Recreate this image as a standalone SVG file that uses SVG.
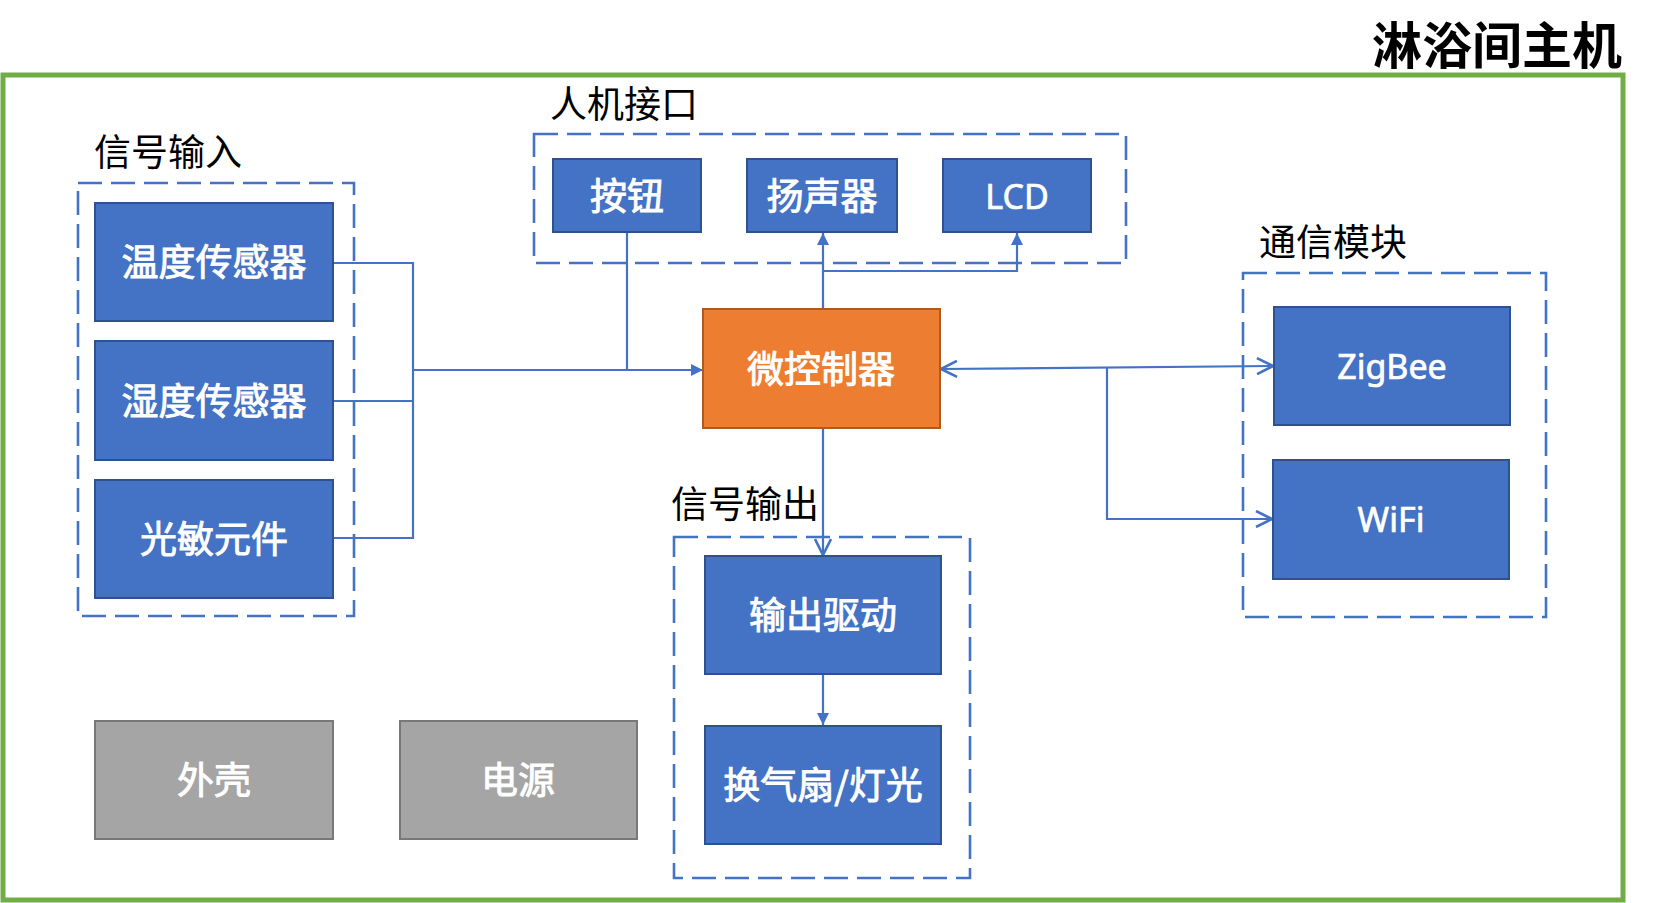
<svg xmlns="http://www.w3.org/2000/svg" width="1655" height="903" viewBox="0 0 1655 903">
<style>
  .frame{fill:none;stroke:#70AD47;stroke-width:5}
  .grp{fill:none;stroke:#4472C4;stroke-width:2.6;stroke-dasharray:24 9}
  .blue{fill:#4472C4;stroke:#2F528F;stroke-width:2}
  .orange{fill:#ED7D31;stroke:#AE5A21;stroke-width:2}
  .gray{fill:#A5A5A5;stroke:#787878;stroke-width:2}
  .lbl{font-family:"Noto Sans CJK SC","Noto Sans",sans-serif;font-size:37px;fill:#000}
  .title{font-family:"Noto Sans CJK SC","Noto Sans",sans-serif;font-size:50px;font-weight:bold;fill:#000}
  .nt{font-family:"Noto Sans CJK SC","Noto Sans",sans-serif;font-size:37px;fill:#fff;stroke:#fff;stroke-width:0.9;text-anchor:middle}
  .lt{font-family:"Noto Sans","Noto Sans CJK SC",sans-serif;font-size:34px;fill:#fff;stroke:#fff;stroke-width:0.7;text-anchor:middle}
  .wire{fill:none;stroke:#4472C4;stroke-width:2.2}
</style>
<defs>
  <marker id="tri" viewBox="0 0 12 12" refX="12" refY="6" markerWidth="12" markerHeight="12" markerUnits="userSpaceOnUse" orient="auto">
    <path d="M0,0 L12,6 L0,12 Z" fill="#4472C4"/>
  </marker>
  <marker id="vee" viewBox="0 0 18 18" refX="17" refY="9" markerWidth="18" markerHeight="18" markerUnits="userSpaceOnUse" orient="auto-start-reverse">
    <path d="M1,1 L17,9 L1,17" fill="none" stroke="#4472C4" stroke-width="2.6"/>
  </marker>
</defs>
<rect width="1655" height="903" fill="#fff"/>

<g id="host">
  <rect class="frame" x="3" y="75" width="1620" height="825"/>
  <text class="title" x="1622" y="64" text-anchor="end">淋浴间主机</text>
</g>

<g id="group-input">
  <rect class="grp" x="78" y="183" width="276" height="433"/>
  <text class="lbl" x="94" y="166">信号输入</text>
</g>
<g id="group-hmi">
  <rect class="grp" x="534" y="134" width="592" height="129"/>
  <text class="lbl" x="550" y="118">人机接口</text>
</g>
<g id="group-output">
  <rect class="grp" x="674" y="537" width="296" height="341"/>
  <text class="lbl" x="671" y="518">信号输出</text>
</g>
<g id="group-comm">
  <rect class="grp" x="1243" y="273" width="303" height="344"/>
  <text class="lbl" x="1259" y="256">通信模块</text>
</g>

<g id="connectors">
  <polyline class="wire" points="333,263 413,263 413,538 333,538"/>
  <line class="wire" x1="333" y1="401" x2="413" y2="401"/>
  <line class="wire" x1="413" y1="370" x2="703" y2="370" marker-end="url(#tri)"/>
  <line class="wire" x1="627" y1="232" x2="627" y2="370"/>
  <line class="wire" x1="823" y1="309" x2="823" y2="233" marker-end="url(#tri)"/>
  <polyline class="wire" points="823,271 1017,271 1017,233" marker-end="url(#tri)"/>
  <line class="wire" x1="941" y1="369" x2="1273" y2="366" marker-start="url(#vee)" marker-end="url(#vee)"/>
  <polyline class="wire" points="1107,368 1107,519 1272,519" marker-end="url(#vee)"/>
  <line class="wire" x1="823" y1="428" x2="823" y2="555" marker-end="url(#vee)"/>
  <line class="wire" x1="823" y1="674" x2="823" y2="725" marker-end="url(#tri)"/>
</g>

<g id="n-temp"><rect class="blue" x="95" y="203" width="238" height="118"/><text class="nt" x="214" y="276">温度传感器</text></g>
<g id="n-humid"><rect class="blue" x="95" y="341" width="238" height="119"/><text class="nt" x="214" y="415">湿度传感器</text></g>
<g id="n-light"><rect class="blue" x="95" y="480" width="238" height="118"/><text class="nt" x="214" y="553">光敏元件</text></g>
<g id="n-button"><rect class="blue" x="553" y="159" width="148" height="73"/><text class="nt" x="627" y="210">按钮</text></g>
<g id="n-speaker"><rect class="blue" x="747" y="159" width="150" height="73"/><text class="nt" x="822" y="210">扬声器</text></g>
<g id="n-lcd"><rect class="blue" x="943" y="159" width="148" height="73"/><text class="lt" x="1017" y="209">LCD</text></g>
<g id="n-mcu"><rect class="orange" x="703" y="309" width="237" height="119"/><text class="nt" x="821" y="383">微控制器</text></g>
<g id="n-driver"><rect class="blue" x="705" y="556" width="236" height="118"/><text class="nt" x="823" y="629">输出驱动</text></g>
<g id="n-fan"><rect class="blue" x="705" y="726" width="236" height="118"/><text class="nt" x="823" y="799">换气扇/灯光</text></g>
<g id="n-zigbee"><rect class="blue" x="1274" y="307" width="236" height="118"/><text class="lt" x="1392" y="379">ZigBee</text></g>
<g id="n-wifi"><rect class="blue" x="1273" y="460" width="236" height="119"/><text class="lt" x="1391" y="532">WiFi</text></g>
<g id="n-case"><rect class="gray" x="95" y="721" width="238" height="118"/><text class="nt" x="214" y="794">外壳</text></g>
<g id="n-power"><rect class="gray" x="400" y="721" width="237" height="118"/><text class="nt" x="518" y="794">电源</text></g>
</svg>
